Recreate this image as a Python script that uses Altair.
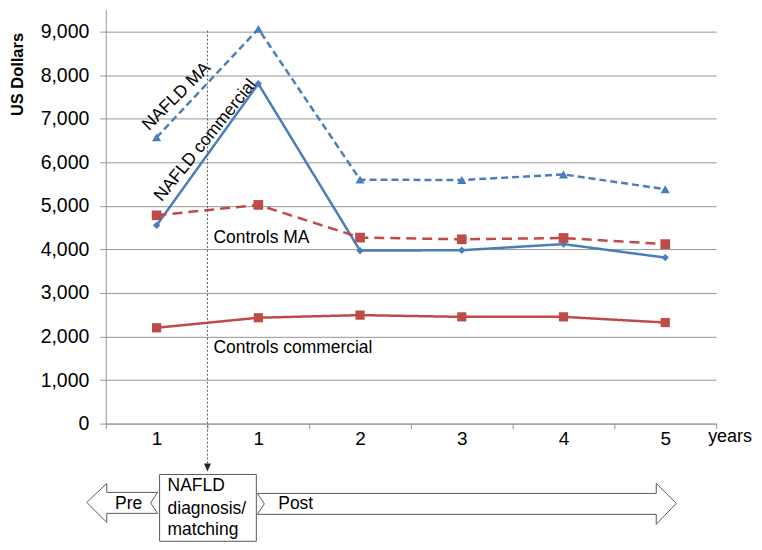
import altair as alt
import pandas as pd

# ---- data ----
periods = ["pre-1", "post-1", "post-2", "post-3", "post-4", "post-5"]
tick_labels = ["1", "1", "2", "3", "4", "5"]
series_names = ["NAFLD MA", "NAFLD commercial", "Controls MA", "Controls commercial"]
nafld_ma = [6570, 9060, 5600, 5590, 5720, 5380]
nafld_commercial = [4550, 7800, 3970, 3980, 4120, 3810]
controls_ma = [4780, 5020, 4270, 4230, 4260, 4120]
controls_commercial = [2200, 2430, 2490, 2450, 2450, 2320]
y_ticks = [0, 1000, 2000, 3000, 4000, 5000, 6000, 7000, 8000, 9000]
box_lines = ["NAFLD", "diagnosis/", "matching"]

values = [nafld_ma, nafld_commercial, controls_ma, controls_commercial]
rows = []
for name, vals in zip(series_names, values):
    for p, v in zip(periods, vals):
        rows.append({"series": name, "period": p, "cost": v})
df = pd.DataFrame(rows)

BLUE = "#4A7EBB"
RED = "#BE4B48"
GRID = "#969696"
FONT = "Liberation Sans"
FS = 17.5

styles = {
    "NAFLD MA": dict(color=BLUE, dash=[7, 4], shape="triangle-up", size=85),
    "NAFLD commercial": dict(color=BLUE, dash=[1, 0], shape="diamond", size=55),
    "Controls MA": dict(color=RED, dash=[10, 6], shape="square", size=95),
    "Controls commercial": dict(color=RED, dash=[1, 0], shape="square", size=85),
}

label_expr = " : ".join(
    f"datum.value === '{p}' ? '{t}'" for p, t in zip(periods, tick_labels)
) + " : ''"

x_enc = alt.X(
    "period:N",
    sort=periods,
    bandPosition=0.5,
    scale=alt.Scale(type="band", domain=periods, paddingInner=0, paddingOuter=0),
    axis=alt.Axis(
        title=None, labelAngle=0, labelExpr=label_expr, tickBand="extent",
        grid=False, labelFontSize=19, labelFont=FONT, labelColor="#000000",
        tickSize=5, tickColor=GRID, domainColor=GRID, labelPadding=1,
    ),
)
y_enc = alt.Y(
    "cost:Q",
    scale=alt.Scale(domain=[0, 9500], nice=False),
    axis=alt.Axis(
        title=None, values=y_ticks, format=",.0f", labelFontSize=19.5, labelFont=FONT,
        labelColor="#000000", tickSize=6, tickColor=GRID, gridColor=GRID,
        domainColor=GRID, labelPadding=11, grid=True,
    ),
)

base = alt.Chart(df)
layers = []
for name in series_names:
    st = styles[name]
    sub = base.transform_filter(alt.datum.series == name)
    layers.append(
        sub.mark_line(color=st["color"], strokeWidth=2.5, strokeDash=st["dash"]).encode(x=x_enc, y=y_enc)
    )
for name in series_names:
    st = styles[name]
    sub = base.transform_filter(alt.datum.series == name)
    layers.append(
        sub.mark_point(shape=st["shape"], size=st["size"], filled=True, color=st["color"], opacity=1)
        .encode(x=x_enc, y=y_enc)
    )

one = pd.DataFrame({"k": [0]})


def note(text, x, y, align="left", angle=0, size=FS, weight="normal", baseline="middle"):
    kw = dict(text=text, align=align, baseline=baseline, fontSize=size, font=FONT,
              fontWeight=weight, color="#000000")
    if angle:
        kw["angle"] = angle
    return alt.Chart(one).mark_text(**kw).encode(x=alt.value(x), y=alt.value(y))


# series labels
layers.append(note("NAFLD MA", 71, 87, align="center", angle=315))
layers.append(note("NAFLD commercial", 100, 131, align="center", angle=309))
layers.append(note("Controls MA", 108, 229))
layers.append(note("Controls commercial", 108, 339))
layers.append(note("years", 626, 428, align="center", size=18))
layers.append(note("US Dollars", -88, 65, align="center", angle=270, size=16.5, weight="bold"))

# vertical dotted marker line with arrowhead
layers.append(
    alt.Chart(one).mark_rule(color="#595959", strokeDash=[2, 2], strokeWidth=1)
    .encode(x=alt.value(102), y=alt.value(21), y2=alt.value(456))
)
layers.append(
    alt.Chart(one).mark_point(shape="M-3.5,-8L3.5,-8L0,0Z", size=4, filled=True,
                              color="#262626", opacity=1)
    .encode(x=alt.value(102), y=alt.value(463))
)

# timeline arrows (paths in pixel units; size 4 -> scale 1)
pre_path = "M-19,494L1,475L1,484L52,484L45,494.5L52,505L1,505L1,514Z"
post_path = "M152,485L552,485L552,475L572,495L552,516L552,506L152,506L159,495.5Z"
for pth in [pre_path, post_path]:
    layers.append(
        alt.Chart(one).mark_point(shape=pth, size=4, fill="white", fillOpacity=1,
                                  stroke="#595959", strokeWidth=1, strokeOpacity=1, opacity=1)
        .encode(x=alt.value(0), y=alt.value(0))
    )
layers.append(
    alt.Chart(one).mark_rect(fill="white", stroke="#595959", strokeWidth=1)
    .encode(x=alt.value(54), x2=alt.value(151), y=alt.value(466), y2=alt.value(533))
)
layers.append(note("Pre", 23, 496, align="center"))
layers.append(note("Post", 173, 496))
for line, yy in zip(box_lines, [478, 501, 522]):
    layers.append(note(line, 62, yy))

chart = (
    alt.layer(*layers)
    .properties(
        width=612, height=415,
        autosize=alt.AutoSizeParams(type="none"),
        padding={"left": 98, "top": 1, "right": 38, "bottom": 120},
        background="white",
    )
    .configure_view(strokeWidth=0)
)

chart.save("out.html", embed_options={"renderer": "svg", "actions": False})
